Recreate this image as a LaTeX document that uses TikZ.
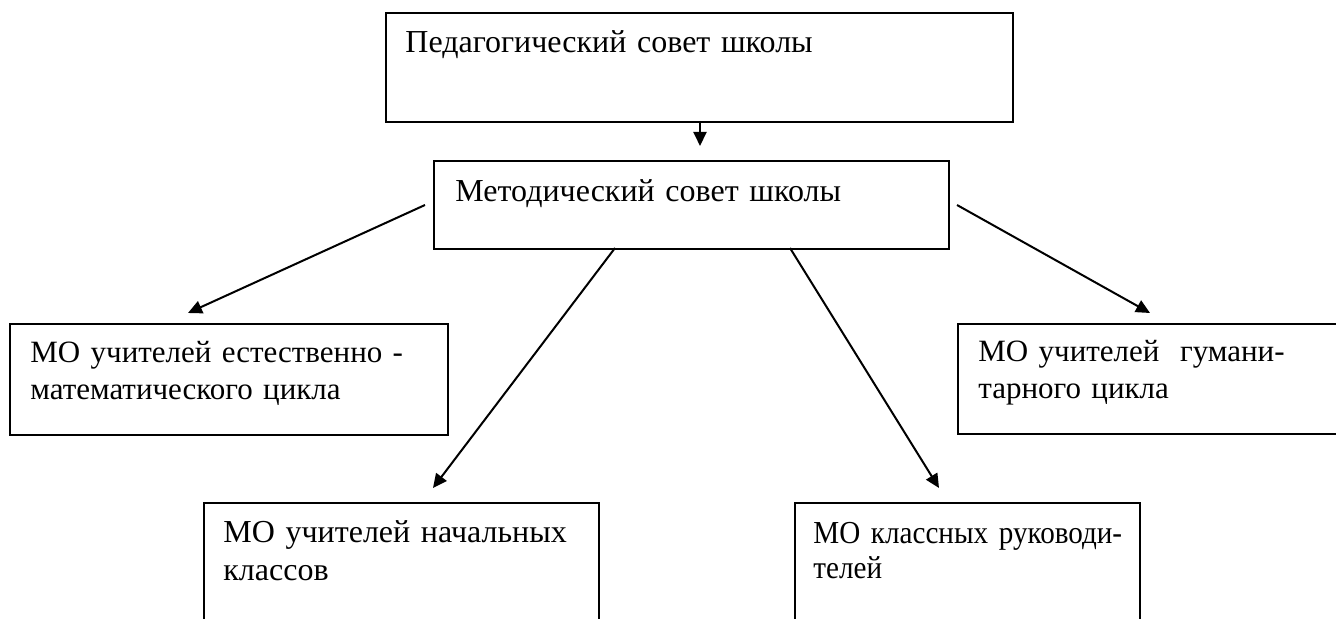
\documentclass[tikz,border=0pt]{standalone}
\usepackage{fontspec}
\setmainfont{Liberation Serif}
\newfontfamily\narrowserif[FakeStretch=0.91]{Liberation Serif}
\usetikzlibrary{arrows.meta}
\begin{document}
\begin{tikzpicture}[x=0.5pt,y=-0.5pt,
  box/.style={draw,line width=1pt,inner sep=0pt,anchor=north west},
  lbl/.style={anchor=base west,inner sep=0pt,align=left,text width=260pt,font=\fontsize{16}{19}\selectfont},
  conn/.style={line width=1pt,-{Triangle[length=7pt,width=6.5pt]}}]
\useasboundingbox (0,0) rectangle (1336,619);
\clip (0,0) rectangle (1336,619);
% boxes
\node[box,minimum width=313.5pt,minimum height=54.5pt] (ped) at (385,12) {};
\node[box,minimum width=257.5pt,minimum height=44pt] (met) at (433,160) {};
\node[box,minimum width=219pt,minimum height=55.5pt] (lb) at (9,323) {};
\node[box,minimum width=220pt,minimum height=55pt] (rb) at (957,323) {};
\node[box,minimum width=197.5pt,minimum height=75pt] (bl) at (203,502) {};
\node[box,minimum width=172.5pt,minimum height=75pt] (br) at (794,502) {};
% texts
\node[lbl] (tped) at (405,53) {Педагогический совет школы};
\node[lbl] (tmet) at (455,202) {Методический совет школы};
\node[lbl,font=\fontsize{15.5}{18.5}\selectfont] (tlb) at (30,363) {МО учителей естественно -\\математического цикла};
\node[lbl,font=\fontsize{15.5}{18.5}\selectfont] (trb) at (978,362) {МО учителей\ \ гумани-\\тарного цикла};
\node[lbl] (tbl) at (223,542) {МО учителей начальных\\классов};
\node[lbl,font=\narrowserif\fontsize{16}{17.5}\selectfont] (tbr) at (813,543) {МО классных руководи-\\телей};
% connector ends
\coordinate (s1) at (700,121); \coordinate (e1) at (700,146);
\coordinate (s2) at (425,205); \coordinate (e2) at (188,313);
\coordinate (s3) at (957,205); \coordinate (e3) at (1150,313);
\coordinate (s4) at (615,248); \coordinate (e4) at (433,488);
\coordinate (s5) at (790,248); \coordinate (e5) at (939,488);
\draw[conn] (s1) -- (e1);
\draw[conn] (s2) -- (e2);
\draw[conn] (s3) -- (e3);
\draw[conn] (s4) -- (e4);
\draw[conn] (s5) -- (e5);
\end{tikzpicture}
\end{document}
